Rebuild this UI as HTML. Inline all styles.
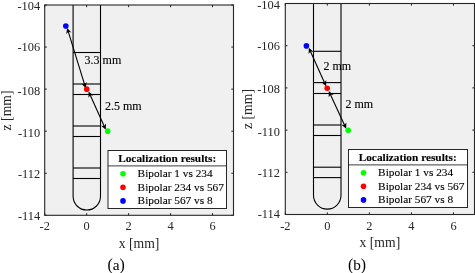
<!DOCTYPE html>
<html><head><meta charset="utf-8"><style>
html,body{margin:0;padding:0;background:#fff;}
body{width:475px;height:273px;overflow:hidden;}
svg{display:block;will-change:transform;}
text{font-family:"Liberation Serif", serif;fill:#262626;}
text.k{fill:#000;stroke:#000;stroke-width:0.12px;}
text.cap{fill:#000;stroke:none;}
</style></head><body>
<svg width="475" height="273" viewBox="0 0 475 273">
<rect width="475" height="273" fill="#fff"/>
<rect x="44.70" y="5.00" width="188.80" height="210.30" fill="#f0f0f0"/>
<path d="M73.10 5.00L73.10 196.30A13.70 13.70 0 0 0 100.50 196.30L100.50 5.00" fill="none" stroke="#000" stroke-width="1.1"/>
<line x1="73.10" y1="52.50" x2="100.50" y2="52.50" stroke="#000" stroke-width="1.1"/>
<line x1="73.10" y1="84.00" x2="100.50" y2="84.00" stroke="#000" stroke-width="1.1"/>
<line x1="73.10" y1="94.50" x2="100.50" y2="94.50" stroke="#000" stroke-width="1.1"/>
<line x1="73.10" y1="126.00" x2="100.50" y2="126.00" stroke="#000" stroke-width="1.1"/>
<line x1="73.10" y1="136.50" x2="100.50" y2="136.50" stroke="#000" stroke-width="1.1"/>
<line x1="73.10" y1="168.00" x2="100.50" y2="168.00" stroke="#000" stroke-width="1.1"/>
<line x1="73.10" y1="178.50" x2="100.50" y2="178.50" stroke="#000" stroke-width="1.1"/>
<line x1="44.70" y1="215.30" x2="44.70" y2="213.10" stroke="#262626" stroke-width="1"/>
<line x1="44.70" y1="5.00" x2="44.70" y2="7.20" stroke="#262626" stroke-width="1"/>
<text x="44.70" y="230.40" text-anchor="middle" font-size="12.4">-2</text>
<line x1="86.66" y1="215.30" x2="86.66" y2="213.10" stroke="#262626" stroke-width="1"/>
<line x1="86.66" y1="5.00" x2="86.66" y2="7.20" stroke="#262626" stroke-width="1"/>
<text x="86.66" y="230.40" text-anchor="middle" font-size="12.4">0</text>
<line x1="128.61" y1="215.30" x2="128.61" y2="213.10" stroke="#262626" stroke-width="1"/>
<line x1="128.61" y1="5.00" x2="128.61" y2="7.20" stroke="#262626" stroke-width="1"/>
<text x="128.61" y="230.40" text-anchor="middle" font-size="12.4">2</text>
<line x1="170.57" y1="215.30" x2="170.57" y2="213.10" stroke="#262626" stroke-width="1"/>
<line x1="170.57" y1="5.00" x2="170.57" y2="7.20" stroke="#262626" stroke-width="1"/>
<text x="170.57" y="230.40" text-anchor="middle" font-size="12.4">4</text>
<line x1="212.52" y1="215.30" x2="212.52" y2="213.10" stroke="#262626" stroke-width="1"/>
<line x1="212.52" y1="5.00" x2="212.52" y2="7.20" stroke="#262626" stroke-width="1"/>
<text x="212.52" y="230.40" text-anchor="middle" font-size="12.4">6</text>
<line x1="44.70" y1="5.00" x2="46.90" y2="5.00" stroke="#262626" stroke-width="1"/>
<line x1="233.50" y1="5.00" x2="231.30" y2="5.00" stroke="#262626" stroke-width="1"/>
<text x="40.20" y="10.30" text-anchor="end" font-size="12.4">-104</text>
<line x1="44.70" y1="47.06" x2="46.90" y2="47.06" stroke="#262626" stroke-width="1"/>
<line x1="233.50" y1="47.06" x2="231.30" y2="47.06" stroke="#262626" stroke-width="1"/>
<text x="40.20" y="51.40" text-anchor="end" font-size="12.4">-106</text>
<line x1="44.70" y1="89.12" x2="46.90" y2="89.12" stroke="#262626" stroke-width="1"/>
<line x1="233.50" y1="89.12" x2="231.30" y2="89.12" stroke="#262626" stroke-width="1"/>
<text x="40.20" y="94.52" text-anchor="end" font-size="12.4">-108</text>
<line x1="44.70" y1="131.18" x2="46.90" y2="131.18" stroke="#262626" stroke-width="1"/>
<line x1="233.50" y1="131.18" x2="231.30" y2="131.18" stroke="#262626" stroke-width="1"/>
<text x="40.20" y="137.38" text-anchor="end" font-size="12.4">-110</text>
<line x1="44.70" y1="173.24" x2="46.90" y2="173.24" stroke="#262626" stroke-width="1"/>
<line x1="233.50" y1="173.24" x2="231.30" y2="173.24" stroke="#262626" stroke-width="1"/>
<text x="40.20" y="177.58" text-anchor="end" font-size="12.4">-112</text>
<line x1="44.70" y1="215.30" x2="46.90" y2="215.30" stroke="#262626" stroke-width="1"/>
<line x1="233.50" y1="215.30" x2="231.30" y2="215.30" stroke="#262626" stroke-width="1"/>
<text x="40.20" y="219.70" text-anchor="end" font-size="12.4">-114</text>
<rect x="44.70" y="5.00" width="188.80" height="210.30" fill="none" stroke="#262626" stroke-width="1.1"/>
<text x="139.10" y="247.70" text-anchor="middle" font-size="13.7">x [mm]</text>
<text transform="translate(11.40,110.45) rotate(-90)" text-anchor="middle" font-size="13.7">z [mm]</text>
<text x="116.10" y="269.50" text-anchor="middle" font-size="15.3" class="cap"><tspan font-size="15.9">(</tspan>a<tspan font-size="15.9">)</tspan></text>
<line x1="68.04" y1="30.79" x2="84.86" y2="85.36" stroke="#000" stroke-width="1.1"/>
<path d="M85.75 88.23L81.52 83.67L84.54 84.31L86.68 82.08Z" fill="#000"/>
<path d="M67.15 27.92L71.38 32.48L68.36 31.84L66.22 34.07Z" fill="#000"/>
<line x1="89.83" y1="94.28" x2="104.57" y2="126.92" stroke="#000" stroke-width="1.1"/>
<path d="M105.81 129.66L101.04 125.66L104.12 125.92L105.96 123.44Z" fill="#000"/>
<path d="M88.59 91.54L93.36 95.54L90.28 95.28L88.44 97.76Z" fill="#000"/>
<circle cx="107.70" cy="131.15" r="2.8" fill="#00ff00"/>
<circle cx="86.75" cy="89.15" r="2.8" fill="#ff0000"/>
<circle cx="65.80" cy="26.05" r="2.8" fill="#0000ff"/>
<text x="84.60" y="63.60" font-size="12" class="k">3.3 mm</text>
<text x="105.00" y="109.60" font-size="12" class="k">2.5 mm</text>
<rect x="108.00" y="150.50" width="118.50" height="58.00" fill="#fff" stroke="#262626" stroke-width="1"/>
<line x1="108.00" y1="165.90" x2="226.50" y2="165.90" stroke="#262626" stroke-width="0.9"/>
<text x="118.20" y="161.70" font-size="11.3" font-weight="bold" class="k">Localization results:</text>
<circle cx="123.00" cy="173.70" r="2.8" fill="#00ff00"/>
<text x="137.60" y="177.00" font-size="11.3" class="k">Bipolar 1 vs 234</text>
<circle cx="123.00" cy="187.30" r="2.8" fill="#ff0000"/>
<text x="137.60" y="190.60" font-size="11.3" class="k">Bipolar 234 vs 567</text>
<circle cx="123.00" cy="200.90" r="2.8" fill="#0000ff"/>
<text x="137.60" y="204.20" font-size="11.3" class="k">Bipolar 567 vs 8</text>
<rect x="285.30" y="3.50" width="189.20" height="211.00" fill="#f0f0f0"/>
<path d="M313.50 3.50L313.50 195.37A13.75 13.75 0 0 0 341.00 195.37L341.00 3.50" fill="none" stroke="#000" stroke-width="1.1"/>
<line x1="313.50" y1="51.30" x2="341.00" y2="51.30" stroke="#000" stroke-width="1.1"/>
<line x1="313.50" y1="82.60" x2="341.00" y2="82.60" stroke="#000" stroke-width="1.1"/>
<line x1="313.50" y1="93.50" x2="341.00" y2="93.50" stroke="#000" stroke-width="1.1"/>
<line x1="313.50" y1="125.00" x2="341.00" y2="125.00" stroke="#000" stroke-width="1.1"/>
<line x1="313.50" y1="135.50" x2="341.00" y2="135.50" stroke="#000" stroke-width="1.1"/>
<line x1="313.50" y1="167.20" x2="341.00" y2="167.20" stroke="#000" stroke-width="1.1"/>
<line x1="313.50" y1="177.60" x2="341.00" y2="177.60" stroke="#000" stroke-width="1.1"/>
<line x1="285.30" y1="214.50" x2="285.30" y2="212.30" stroke="#262626" stroke-width="1"/>
<line x1="285.30" y1="3.50" x2="285.30" y2="5.70" stroke="#262626" stroke-width="1"/>
<text x="285.30" y="230.10" text-anchor="middle" font-size="12.4">-2</text>
<line x1="327.34" y1="214.50" x2="327.34" y2="212.30" stroke="#262626" stroke-width="1"/>
<line x1="327.34" y1="3.50" x2="327.34" y2="5.70" stroke="#262626" stroke-width="1"/>
<text x="327.34" y="230.10" text-anchor="middle" font-size="12.4">0</text>
<line x1="369.39" y1="214.50" x2="369.39" y2="212.30" stroke="#262626" stroke-width="1"/>
<line x1="369.39" y1="3.50" x2="369.39" y2="5.70" stroke="#262626" stroke-width="1"/>
<text x="369.39" y="230.10" text-anchor="middle" font-size="12.4">2</text>
<line x1="411.43" y1="214.50" x2="411.43" y2="212.30" stroke="#262626" stroke-width="1"/>
<line x1="411.43" y1="3.50" x2="411.43" y2="5.70" stroke="#262626" stroke-width="1"/>
<text x="411.43" y="230.10" text-anchor="middle" font-size="12.4">4</text>
<line x1="453.48" y1="214.50" x2="453.48" y2="212.30" stroke="#262626" stroke-width="1"/>
<line x1="453.48" y1="3.50" x2="453.48" y2="5.70" stroke="#262626" stroke-width="1"/>
<text x="453.48" y="230.10" text-anchor="middle" font-size="12.4">6</text>
<line x1="285.30" y1="3.50" x2="287.50" y2="3.50" stroke="#262626" stroke-width="1"/>
<line x1="474.50" y1="3.50" x2="472.30" y2="3.50" stroke="#262626" stroke-width="1"/>
<text x="279.95" y="9.40" text-anchor="end" font-size="12.4">-104</text>
<line x1="285.30" y1="45.70" x2="287.50" y2="45.70" stroke="#262626" stroke-width="1"/>
<line x1="474.50" y1="45.70" x2="472.30" y2="45.70" stroke="#262626" stroke-width="1"/>
<text x="279.95" y="49.70" text-anchor="end" font-size="12.4">-106</text>
<line x1="285.30" y1="87.90" x2="287.50" y2="87.90" stroke="#262626" stroke-width="1"/>
<line x1="474.50" y1="87.90" x2="472.30" y2="87.90" stroke="#262626" stroke-width="1"/>
<text x="279.95" y="93.30" text-anchor="end" font-size="12.4">-108</text>
<line x1="285.30" y1="130.10" x2="287.50" y2="130.10" stroke="#262626" stroke-width="1"/>
<line x1="474.50" y1="130.10" x2="472.30" y2="130.10" stroke="#262626" stroke-width="1"/>
<text x="279.95" y="136.20" text-anchor="end" font-size="12.4">-110</text>
<line x1="285.30" y1="172.30" x2="287.50" y2="172.30" stroke="#262626" stroke-width="1"/>
<line x1="474.50" y1="172.30" x2="472.30" y2="172.30" stroke="#262626" stroke-width="1"/>
<text x="279.95" y="176.64" text-anchor="end" font-size="12.4">-112</text>
<line x1="285.30" y1="214.50" x2="287.50" y2="214.50" stroke="#262626" stroke-width="1"/>
<line x1="474.50" y1="214.50" x2="472.30" y2="214.50" stroke="#262626" stroke-width="1"/>
<text x="279.95" y="217.90" text-anchor="end" font-size="12.4">-114</text>
<rect x="285.30" y="3.50" width="189.20" height="211.00" fill="none" stroke="#262626" stroke-width="1.1"/>
<text x="379.90" y="247.20" text-anchor="middle" font-size="13.7">x [mm]</text>
<text transform="translate(251.60,109.00) rotate(-90)" text-anchor="middle" font-size="13.7">z [mm]</text>
<text x="357.00" y="269.50" text-anchor="middle" font-size="15.3" class="cap"><tspan font-size="15.9">(</tspan>b<tspan font-size="15.9">)</tspan></text>
<line x1="310.03" y1="50.58" x2="324.87" y2="83.42" stroke="#000" stroke-width="1.1"/>
<path d="M326.11 86.16L321.34 82.16L324.42 82.42L326.26 79.94Z" fill="#000"/>
<path d="M308.79 47.84L313.56 51.84L310.48 51.58L308.64 54.06Z" fill="#000"/>
<line x1="330.05" y1="93.67" x2="344.95" y2="126.03" stroke="#000" stroke-width="1.1"/>
<path d="M346.21 128.75L341.41 124.80L344.49 125.03L346.32 122.54Z" fill="#000"/>
<path d="M328.79 90.95L333.59 94.90L330.51 94.67L328.68 97.16Z" fill="#000"/>
<circle cx="348.20" cy="130.20" r="2.8" fill="#00ff00"/>
<circle cx="327.20" cy="88.25" r="2.8" fill="#ff0000"/>
<circle cx="306.40" cy="45.90" r="2.8" fill="#0000ff"/>
<text x="323.40" y="70.20" font-size="12" class="k">2 mm</text>
<text x="345.40" y="108.10" font-size="12" class="k">2 mm</text>
<rect x="348.50" y="149.50" width="119.00" height="58.00" fill="#fff" stroke="#262626" stroke-width="1"/>
<line x1="348.50" y1="164.90" x2="467.50" y2="164.90" stroke="#262626" stroke-width="0.9"/>
<text x="358.70" y="160.70" font-size="11.3" font-weight="bold" class="k">Localization results:</text>
<circle cx="363.50" cy="172.70" r="2.8" fill="#00ff00"/>
<text x="378.10" y="176.00" font-size="11.3" class="k">Bipolar 1 vs 234</text>
<circle cx="363.50" cy="186.30" r="2.8" fill="#ff0000"/>
<text x="378.10" y="189.60" font-size="11.3" class="k">Bipolar 234 vs 567</text>
<circle cx="363.50" cy="199.90" r="2.8" fill="#0000ff"/>
<text x="378.10" y="203.20" font-size="11.3" class="k">Bipolar 567 vs 8</text>
</svg>
</body></html>
